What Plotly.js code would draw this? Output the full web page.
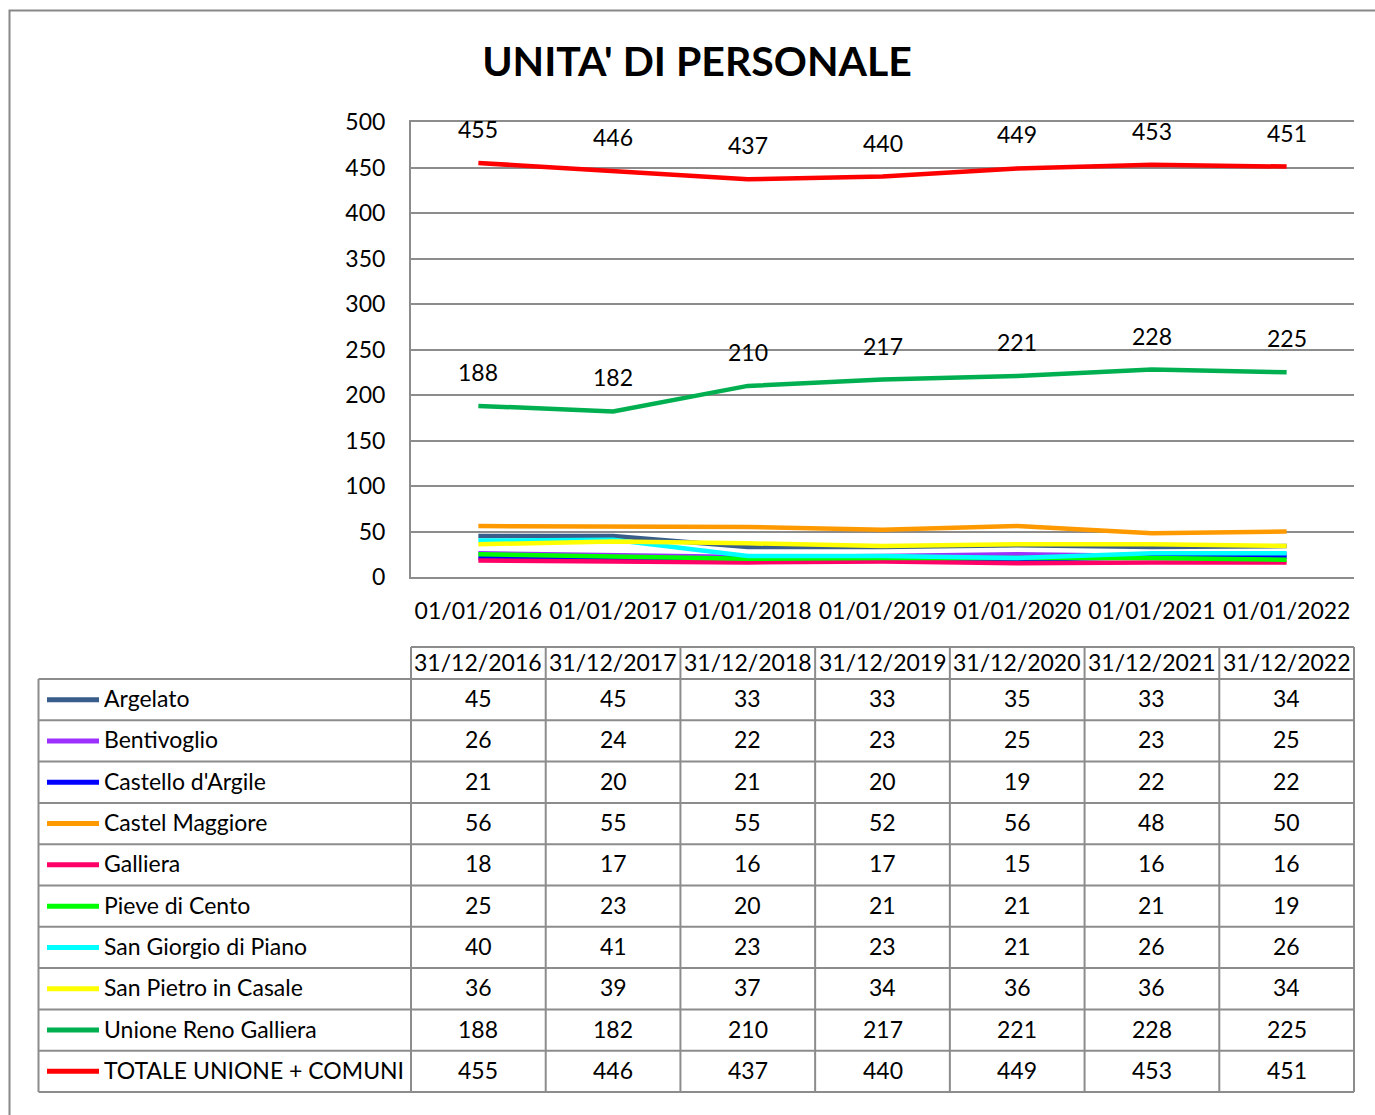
<!DOCTYPE html>
<html>
<head>
<meta charset="utf-8">
<script src="https://cdn.plot.ly/plotly-3.0.1.min.js"></script>
<style>
  html, body { margin: 0; padding: 0; background: #ffffff; }
  #chart { width: 1375px; height: 1115px; }
</style>
</head>
<body>
<div id="chart"></div>
<script>
// ---- data ----
const startDates = ["01/01/2016", "01/01/2017", "01/01/2018", "01/01/2019", "01/01/2020", "01/01/2021", "01/01/2022"];
const endDates   = ["31/12/2016", "31/12/2017", "31/12/2018", "31/12/2019", "31/12/2020", "31/12/2021", "31/12/2022"];

const seriesNames = ["Argelato", "Bentivoglio", "Castello d'Argile", "Castel Maggiore", "Galliera",
                     "Pieve di Cento", "San Giorgio di Piano", "San Pietro in Casale",
                     "Unione Reno Galliera", "TOTALE UNIONE + COMUNI"];

const argelato        = [45, 45, 33, 33, 35, 33, 34];
const bentivoglio     = [26, 24, 22, 23, 25, 23, 25];
const castelloArgile  = [21, 20, 21, 20, 19, 22, 22];
const castelMaggiore  = [56, 55, 55, 52, 56, 48, 50];
const galliera        = [18, 17, 16, 17, 15, 16, 16];
const pieveCento      = [25, 23, 20, 21, 21, 21, 19];
const sanGiorgio      = [40, 41, 23, 23, 21, 26, 26];
const sanPietro       = [36, 39, 37, 34, 36, 36, 34];
const unioneReno      = [188, 182, 210, 217, 221, 228, 225];
const totale          = [455, 446, 437, 440, 449, 453, 451];

const seriesValues = [argelato, bentivoglio, castelloArgile, castelMaggiore, galliera,
                      pieveCento, sanGiorgio, sanPietro, unioneReno, totale];
const seriesColors = ["#385D8A", "#9B30FF", "#0000FF", "#FF9900", "#FF0066",
                      "#00FF00", "#00FFFF", "#FFFF00", "#00B050", "#FF0000"];
const labelledSeries = [8, 9]; // series with data labels

// ---- geometry (pixels) ----
const W = 1375, H = 1115;
const PL = 411, PR = 1354, PT = 122, PB = 577;
const px2x = p => (p - PL) / (PR - PL);
const py2y = p => (PB - p) / (PB - PT);
const FONT = "Lato, 'Open Sans', sans-serif";
const GRID = "#8c8c8c";

const traces = seriesValues.map((vals, i) => ({
  type: "scatter",
  mode: "lines",
  x: startDates,
  y: vals,
  name: seriesNames[i],
  line: { color: seriesColors[i], width: 4.5 },
  hoverinfo: "x+y+name"
}));

const annotations = [];
const shapes = [];

// data labels
labelledSeries.forEach(si => {
  seriesValues[si].forEach((v, j) => {
    annotations.push({
      x: startDates[j], y: v, xref: "x", yref: "y",
      text: String(v), showarrow: false, yshift: 34,
      font: { family: FONT, size: 23, color: "#000" }
    });
  });
});

// table geometry
const headerTop = 647, headerBot = 679;
const rowH = (1092 - 679) / seriesNames.length;
const tableLeftPx = 38.5;
const lineStyle = { color: GRID, width: 2 };
const textLift = 1.5;

// header row labels
endDates.forEach((d, j) => {
  annotations.push({
    x: j, y: py2y((headerTop + headerBot) / 2 - textLift), xref: "x", yref: "paper",
    text: d, showarrow: false, xanchor: "center", yanchor: "middle",
    font: { family: FONT, size: 23, color: "#000" }
  });
});

// body rows
seriesNames.forEach((name, i) => {
  const top = headerBot + i * rowH;
  const cy = top + rowH / 2;
  // legend key
  shapes.push({
    type: "line", xref: "paper", yref: "paper",
    x0: px2x(47), x1: px2x(99), y0: py2y(cy), y1: py2y(cy),
    line: { color: seriesColors[i], width: 5 }
  });
  annotations.push({
    x: px2x(102), y: py2y(cy - textLift), xref: "paper", yref: "paper",
    text: name, showarrow: false, xanchor: "left", yanchor: "middle",
    font: { family: FONT, size: 23, color: "#000" }
  });
  seriesValues[i].forEach((v, j) => {
    annotations.push({
      x: j, y: py2y(cy - textLift), xref: "x", yref: "paper",
      text: String(v), showarrow: false, xanchor: "center", yanchor: "middle",
      font: { family: FONT, size: 23, color: "#000" }
    });
  });
});

// table lines: horizontals
shapes.push({ type: "line", xref: "x", yref: "paper", x0: -0.5, x1: 6.5,
  y0: py2y(headerTop), y1: py2y(headerTop), line: lineStyle });
for (let i = 0; i <= seriesNames.length; i++) {
  const y = py2y(headerBot + i * rowH);
  shapes.push({ type: "line", xref: "paper", yref: "paper",
    x0: px2x(tableLeftPx), x1: 1, y0: y, y1: y, line: lineStyle });
}
// verticals
for (let j = 0; j <= startDates.length; j++) {
  shapes.push({ type: "line", xref: "paper", yref: "paper",
    x0: j / startDates.length, x1: j / startDates.length,
    y0: py2y(headerTop), y1: py2y(1092), line: lineStyle });
}
shapes.push({ type: "line", xref: "paper", yref: "paper",
  x0: px2x(tableLeftPx), x1: px2x(tableLeftPx),
  y0: py2y(headerBot), y1: py2y(1092), line: lineStyle });

// outer chart border
shapes.push({ type: "rect", xref: "paper", yref: "paper",
  x0: px2x(9.5), x1: px2x(1380), y0: py2y(10.5), y1: py2y(1130),
  line: { color: "#888888", width: 2 }, fillcolor: "rgba(0,0,0,0)" });

const layout = {
  width: W, height: H,
  margin: { l: PL, r: W - PR, t: PT, b: H - PB, pad: 0 },
  paper_bgcolor: "#ffffff",
  plot_bgcolor: "#ffffff",
  showlegend: false,
  title: {
    text: "<b>UNITA' DI PERSONALE</b>",
    xref: "container", yref: "container",
    x: 697 / W, xanchor: "center",
    y: 1 - 62 / H, yanchor: "middle",
    font: { family: FONT, size: 41, color: "#000" }
  },
  xaxis: {
    type: "category",
    range: [-0.5, 6.5],
    showgrid: false,
    showline: true,
    mirror: true,
    linecolor: GRID,
    linewidth: 2,
    zeroline: false,
    ticks: "",
    ticklabelstandoff: 12,
    tickfont: { family: FONT, size: 23, color: "#000" },
    fixedrange: true
  },
  yaxis: {
    range: [0, 500],
    dtick: 50,
    tick0: 0,
    showgrid: true,
    gridcolor: GRID,
    gridwidth: 2,
    zeroline: false,
    showline: true,
    linecolor: GRID,
    linewidth: 2,
    ticks: "",
    ticklabelstandoff: 19,
    tickfont: { family: FONT, size: 23, color: "#000" },
    fixedrange: true
  },
  annotations: annotations,
  shapes: shapes
};

Plotly.newPlot("chart", traces, layout, { displayModeBar: false, staticPlot: true });
</script>
</body>
</html>
